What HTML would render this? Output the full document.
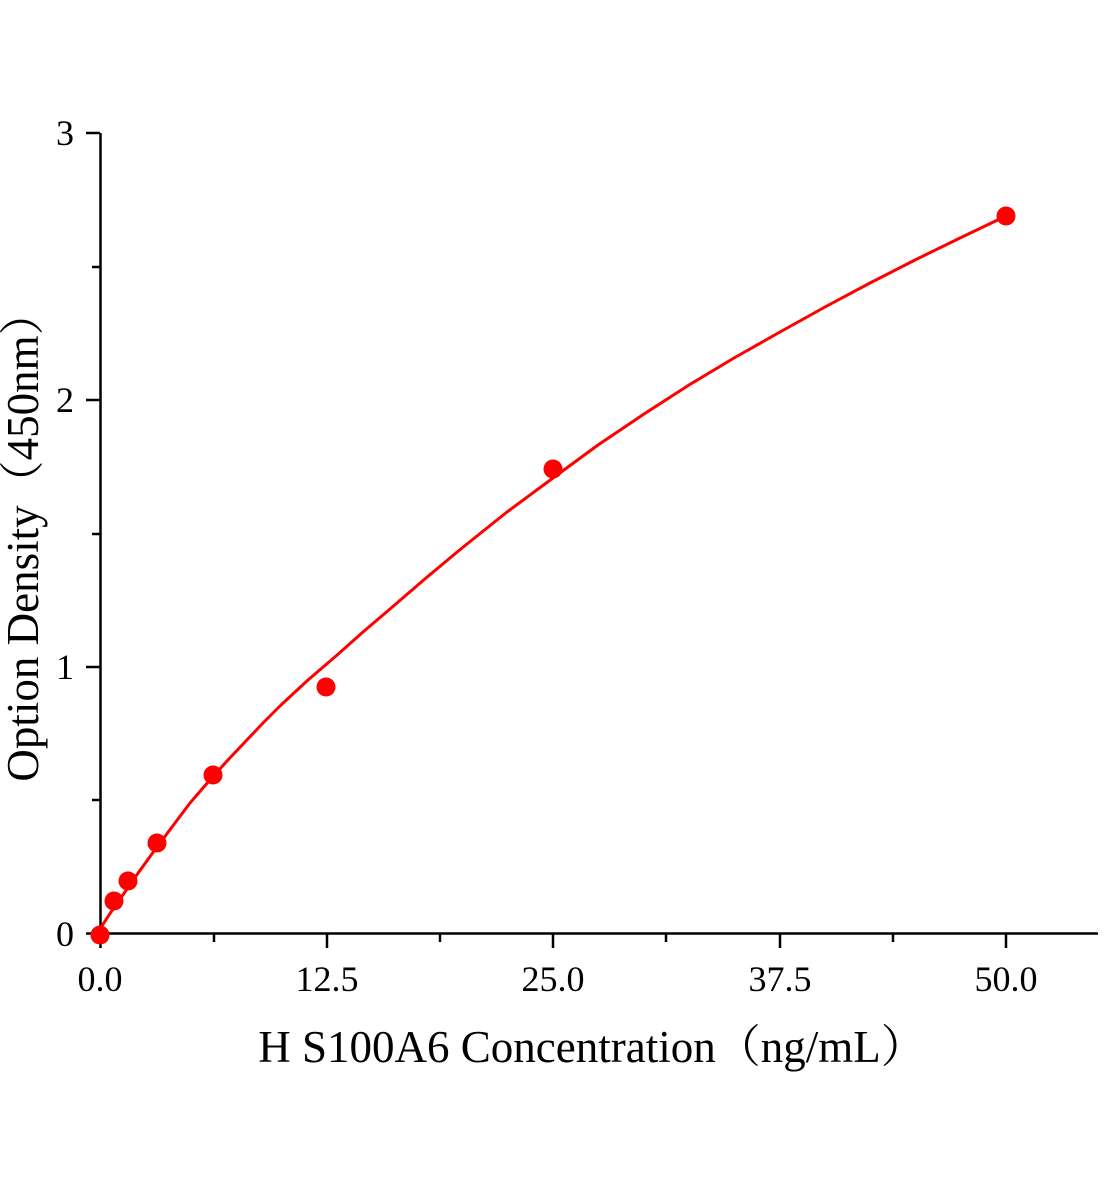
<!DOCTYPE html>
<html><head><meta charset="utf-8"><style>
html,body{margin:0;padding:0;background:#fff;}
svg{display:block;}
text{font-family:"Liberation Serif","Noto Serif CJK SC",serif;fill:#000;}
</style></head><body>
<svg width="1104" height="1200" viewBox="0 0 1104 1200" xmlns="http://www.w3.org/2000/svg">
<g stroke="#000" stroke-width="2.5" fill="none">
<line x1="100.5" y1="133" x2="100.5" y2="935"/>
<line x1="99" y1="933.5" x2="1098" y2="933.5"/>
<line x1="100.5" y1="933" x2="100.5" y2="948"/>
<line x1="327" y1="933" x2="327" y2="948"/>
<line x1="553" y1="933" x2="553" y2="948"/>
<line x1="780" y1="933" x2="780" y2="948"/>
<line x1="1006" y1="933" x2="1006" y2="948"/>
<line x1="214" y1="933" x2="214" y2="942"/>
<line x1="440" y1="933" x2="440" y2="942"/>
<line x1="666" y1="933" x2="666" y2="942"/>
<line x1="893" y1="933" x2="893" y2="942"/>
<line x1="86" y1="933.5" x2="100" y2="933.5"/>
<line x1="86" y1="667" x2="100" y2="667"/>
<line x1="86" y1="400" x2="100" y2="400"/>
<line x1="86" y1="133" x2="100" y2="133"/>
<line x1="92" y1="800" x2="100" y2="800"/>
<line x1="92" y1="534" x2="100" y2="534"/>
<line x1="92" y1="267" x2="100" y2="267"/>
</g>
<g font-size="36" text-anchor="middle">
<text x="100" y="991">0.0</text>
<text x="327" y="991">12.5</text>
<text x="553" y="991">25.0</text>
<text x="780" y="991">37.5</text>
<text x="1006" y="991">50.0</text>
</g>
<g font-size="36" text-anchor="end">
<text x="74" y="946">0</text>
<text x="74" y="679">1</text>
<text x="74" y="412">2</text>
<text x="74" y="145">3</text>
</g>
<text x="592" y="1062" font-size="45" text-anchor="middle">H S100A6 Concentration（ng/mL）</text>
<text transform="translate(38,536) rotate(-90)" font-size="45" text-anchor="middle">Option Density（450nm）</text>
<polyline fill="none" stroke="#f00" stroke-width="3" stroke-linejoin="round" points="97,935 100,929 109,915 118,902 136,876 154,851 172,827 190,803 209,781 227,761 245,742 263,723 281,705 308,680 336,656 363,632 390,609 426,578 462,548 507,512 553,478 598,445 644,414 689,385 734,358 780,332 825,307 870,283 915,260 960,238 1006,216"/>
<g fill="#f00">
<circle cx="100" cy="935" r="9.5"/>
<circle cx="114" cy="901" r="9.5"/>
<circle cx="128" cy="881" r="9.5"/>
<circle cx="157" cy="843" r="9.5"/>
<circle cx="213" cy="775" r="9.5"/>
<circle cx="326" cy="687" r="9.5"/>
<circle cx="553" cy="469" r="9.5"/>
<circle cx="1006" cy="216" r="9.5"/>
</g>
</svg>
</body></html>
